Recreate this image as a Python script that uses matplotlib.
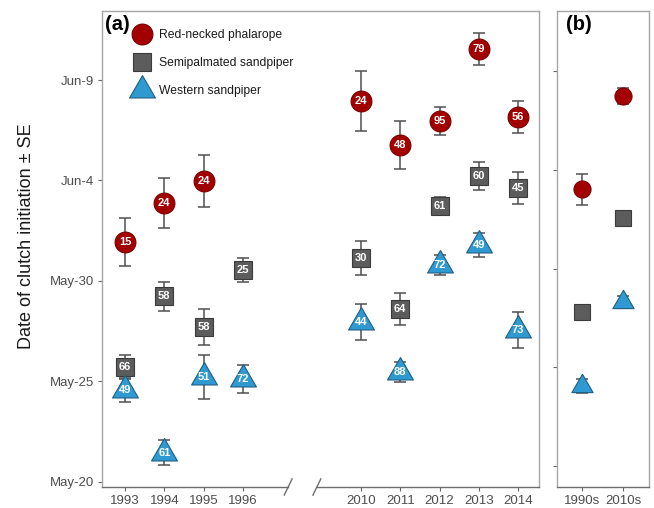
import matplotlib
matplotlib.use('Agg')
import matplotlib.pyplot as plt
from matplotlib.lines import Line2D

plt.rcParams['font.family'] = ['Liberation Sans', 'DejaVu Sans']

# ---------------- data (days after May-20) ----------------
years = ['1993', '1994', '1995', '1996', '2010', '2011', '2012', '2013', '2014']

phal_years = ['1993', '1994', '1995', '2010', '2011', '2012', '2013', '2014']
phal_mean = [11.94, 13.88, 14.98, 18.96, 16.75, 17.96, 21.56, 18.16]
phal_se = [1.2, 1.25, 1.3, 1.5, 1.2, 0.7, 0.8, 0.8]
phal_n = [15, 24, 24, 24, 48, 95, 79, 56]

semi_years = years
semi_mean = [5.70, 9.22, 7.71, 10.53, 11.13, 8.60, 13.73, 15.22, 14.64]
semi_se = [0.6, 0.7, 0.9, 0.6, 0.85, 0.8, 0.45, 0.7, 0.8]
semi_n = [66, 58, 58, 25, 30, 64, 61, 60, 45]

west_years = years
west_mean = [4.55, 1.44, 5.22, 5.12, 7.96, 5.45, 10.77, 11.79, 7.54]
west_se = [0.6, 0.62, 1.1, 0.7, 0.9, 0.5, 0.5, 0.6, 0.9]
west_n = [49, 61, 51, 72, 44, 88, 72, 49, 73]

decades = ['1990s', '2010s']
dec_phal_mean = [14.01, 18.75]
dec_phal_se = [0.8, 0.4]
dec_semi_mean = [7.78, 12.57]
dec_semi_se = [0.2, 0.2]
dec_west_mean = [4.05, 8.30]
dec_west_se = [0.35, 0.3]

ytick_vals = [0, 5, 10, 15, 20]
ytick_labels = ['May-20', 'May-25', 'May-30', 'Jun-4', 'Jun-9']

species = ['Red-necked phalarope', 'Semipalmated sandpiper', 'Western sandpiper']

# ---------------- styling ----------------
W, H = 654, 508
fig = plt.figure(figsize=(W / 100, H / 100), dpi=100)

def fx(px):
    return px / W

def fy(py):
    return 1 - py / H

tri = [(0, 1), (-0.866, -0.5), (0.866, -0.5), (0, 1)]
styles = {
    'Red-necked phalarope': dict(marker='o', ms=15.0, mfc='#a30000', mec='#7a0000'),
    'Semipalmated sandpiper': dict(marker='s', ms=13.0, mfc='#5c5c5c', mec='#3a3a3a'),
    'Western sandpiper': dict(marker=tri, ms=21.5, mfc='#2f9ad2', mec='#1d5f82'),
}
err_kw = dict(fmt='none', ecolor='#505050', elinewidth=1.1, capsize=4, capthick=1.1, zorder=2)
spine_col = '#a6a6a6'
tick_col = '#4d4d4d'

x_lo, x_hi = 102, 539
y_top, y_bot = 11, 487
axA = fig.add_axes([fx(x_lo), fy(y_bot), fx(x_hi - x_lo), (y_bot - y_top) / H])
axB = fig.add_axes([fx(557), fy(y_bot), fx(649 - 557), (y_bot - y_top) / H])

pos = {y: (i if i < 4 else i + 2) for i, y in enumerate(years)}

def draw(ax, xs, means, ses, sp, labels=None, scale=1.0):
    ax.errorbar(xs, means, yerr=ses, **err_kw)
    st = styles[sp]
    ax.plot(xs, means, ls='none', marker=st['marker'], ms=st['ms'] * scale,
            mfc=st['mfc'], mec=st['mec'], mew=0.8, zorder=3)
    if labels is not None:
        for x, m, n in zip(xs, means, labels):
            ax.text(x, m, str(n), color='white', fontsize=8.0, fontweight='bold',
                    ha='center', va='center', zorder=4)

draw(axA, [pos[y] for y in phal_years], phal_mean, phal_se, species[0], phal_n)
draw(axA, [pos[y] for y in semi_years], semi_mean, semi_se, species[1], semi_n)
draw(axA, [pos[y] for y in west_years], west_mean, west_se, species[2], west_n)

draw(axB, [0, 1], dec_phal_mean, dec_phal_se, species[0], scale=0.82)
draw(axB, [0, 1], dec_semi_mean, dec_semi_se, species[1], scale=0.85)
draw(axB, [0, 1], dec_west_mean, dec_west_se, species[2], scale=0.82)

axA.set_xlim(-0.585, 10.53)
axB.set_xlim(-0.61, 1.63)
axA.set_ylim(-0.27, 23.44)
axB.set_ylim(-1.06, 23.04)
for ax in (axA, axB):
    ax.set_yticks(ytick_vals)
    for s in ax.spines.values():
        s.set_color(spine_col)
        s.set_linewidth(1.0)
    ax.tick_params(axis='both', colors='#666666', labelcolor=tick_col, labelsize=9.5,
                   length=3, width=0.8, pad=3)

axA.set_yticklabels(ytick_labels)
axB.set_yticklabels([])
axA.set_xticks([pos[y] for y in years])
axA.set_xticklabels(years)
axB.set_xticks([0, 1])
axB.set_xticklabels(decades)

# broken bottom axis for panel (a)
axA.spines['bottom'].set_visible(False)
trans = axA.get_xaxis_transform()
b1, b2 = 4.15, 4.88
axA.plot([-0.585, b1], [0, 0], color='#6e6e6e', lw=1.0, transform=trans, clip_on=False, zorder=5)
axA.plot([b2, 10.53], [0, 0], color='#6e6e6e', lw=1.0, transform=trans, clip_on=False, zorder=5)
for b in (b1, b2):
    axA.plot([b - 0.1, b + 0.1], [-0.017, 0.017], color='#6e6e6e', lw=1.0,
             transform=trans, clip_on=False, zorder=5)
axB.spines['bottom'].set_color('#6e6e6e')

# panel tags
fig.text(fx(105), fy(25), '(a)', fontsize=14.5, fontweight='bold', ha='left', va='center')
fig.text(fx(566), fy(25), '(b)', fontsize=14.5, fontweight='bold', ha='left', va='center')

# y label
fig.text(fx(27), fy(236), 'Date of clutch initiation \u00b1 SE', fontsize=13, rotation=90,
         ha='center', va='center', color='#1a1a1a')

# legend
handles = [Line2D([], [], ls='none', marker=styles[s]['marker'], ms=styles[s]['ms'],
                  mfc=styles[s]['mfc'], mec=styles[s]['mec'], mew=0.8) for s in species]
leg = axA.legend(handles, species, loc='upper left', bbox_to_anchor=(fx(132), fy(29)),
                 bbox_transform=fig.transFigure, frameon=False, fontsize=8.7,
                 borderpad=0, handlelength=1.6, handletextpad=0.6, labelspacing=1.32,
                 borderaxespad=0)
for t in leg.get_texts():
    t.set_color('#1a1a1a')

fig.savefig('out.png', dpi=100, facecolor='white')
